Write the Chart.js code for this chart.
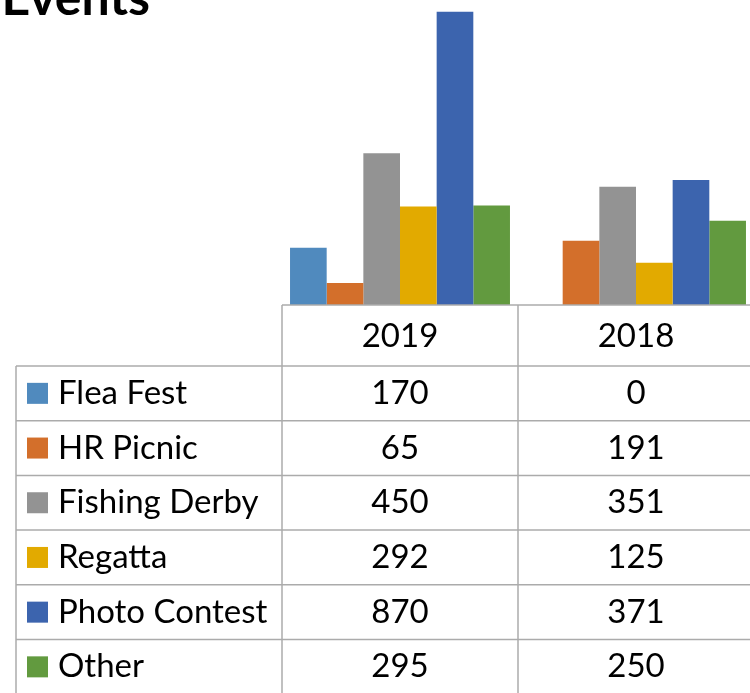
<!DOCTYPE html>
<html><head><meta charset="utf-8">
<script src="https://cdn.jsdelivr.net/npm/chart.js@4/dist/chart.umd.min.js"></script>
<style>html,body{margin:0;padding:0;overflow:hidden;background:#fff;width:750px;height:693px}
#wrap{position:absolute;left:0;top:0;width:760px;height:693px}</style></head>
<body><div id="wrap"><canvas id="c" width="760" height="693"></canvas></div>
<script>
const categories = ['2019', '2018'];
const seriesNames = ['Flea Fest', 'HR Picnic', 'Fishing Derby', 'Regatta', 'Photo Contest', 'Other'];
const values2019 = [170, 65, 450, 292, 870, 295];
const values2018 = [0, 191, 351, 125, 371, 250];
const seriesColors = ['#508ABE', '#D36F2B', '#939393', '#E2AA00', '#3C64AE', '#629A3F'];
const titleText = 'Events';

const FONT = 'Lato, "Open Sans", sans-serif';

const tablePlugin = {
  id: 'dataTable',
  afterDraw(chart) {
    const ctx = chart.ctx;
    const xs = chart.scales.x, ys = chart.scales.y;
    const W = chart.width, H = chart.height;
    const n = categories.length;
    const catW = xs.width / n;
    const colLeft = i => xs.getPixelForValue(i) - catW / 2;
    const y0 = ys.getPixelForValue(0);
    const headerH = 61, rowH = 54.7, legL = 16;
    ctx.save();
    // title
    ctx.fillStyle = '#000';
    ctx.font = 'bold 50px ' + FONT;
    ctx.textAlign = 'right';
    ctx.textBaseline = 'alphabetic';
    ctx.fillText(titleText, 150, 15);

    ctx.strokeStyle = '#ABABAB';
    ctx.lineWidth = 1.5;
    const hline = (x1, x2, y) => { ctx.beginPath(); ctx.moveTo(x1, y); ctx.lineTo(x2, y); ctx.stroke(); };
    const vline = (x, y1, y2) => { ctx.beginPath(); ctx.moveTo(x, y1); ctx.lineTo(x, y2); ctx.stroke(); };
    hline(colLeft(0), W, y0);
    hline(legL, W, y0 + headerH);
    for (let r = 0; r < seriesNames.length; r++) hline(legL, W, y0 + headerH + (r + 1) * rowH);
    vline(legL, y0 + headerH, H);
    for (let i = 0; i <= n; i++) vline(colLeft(i), y0, H);

    ctx.fillStyle = '#000';
    ctx.font = '33px ' + FONT;
    ctx.textBaseline = 'middle';
    ctx.textAlign = 'center';
    categories.forEach((c, i) => ctx.fillText(c, xs.getPixelForValue(i), y0 + headerH / 2 + 1));
    const allVals = [values2019, values2018];
    seriesNames.forEach((name, r) => {
      const cy = y0 + headerH + r * rowH + rowH / 2;
      ctx.fillStyle = seriesColors[r];
      ctx.fillRect(27, cy - 10.5, 21, 21);
      ctx.fillStyle = '#000';
      ctx.textAlign = 'left';
      ctx.fillText(name, 58, cy);
      ctx.textAlign = 'center';
      allVals.forEach((vals, i) => ctx.fillText(String(vals[r]), xs.getPixelForValue(i), cy));
    });
    ctx.restore();
  }
};

new Chart(document.getElementById('c'), {
  type: 'bar',
  data: {
    labels: categories,
    datasets: seriesNames.map((name, r) => ({
      label: name,
      data: [values2019[r], values2018[r]],
      backgroundColor: seriesColors[r],
      borderWidth: 0
    }))
  },
  options: {
    responsive: false,
    animation: false,
    devicePixelRatio: 1,
    layout: { padding: { left: 282, right: 6, top: 0, bottom: 388 } },
    datasets: { bar: { categoryPercentage: 0.932, barPercentage: 1 } },
    plugins: { legend: { display: false }, tooltip: { enabled: false }, title: { display: false } },
    scales: {
      x: { display: false },
      y: { display: false, min: 0, max: 905 }
    }
  },
  plugins: [tablePlugin]
});
</script>
</body></html>
